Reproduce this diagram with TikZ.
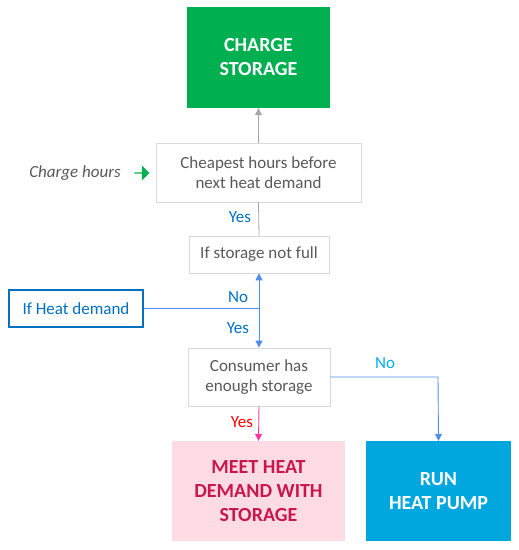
\documentclass[tikz,border=0pt]{standalone}
\usepackage{fontspec}
\setmainfont{Carlito}
\usetikzlibrary{arrows.meta,shapes.arrows,shadows}
\definecolor{cgreen}{HTML}{00B050}
\definecolor{cgraytxt}{HTML}{595959}
\definecolor{cborder}{HTML}{D9D9D9}
\definecolor{cblue}{HTML}{0070C0}
\definecolor{clblue}{HTML}{00B0F0}
\definecolor{cline}{HTML}{4F8EF0}
\definecolor{cpinkfill}{HTML}{FFDCE3}
\definecolor{ccrimson}{HTML}{C8174F}
\definecolor{cpumpfill}{HTML}{00A6DE}
\definecolor{cpink}{HTML}{FF3399}
\definecolor{cred}{HTML}{FF0000}
\definecolor{carrowgray}{HTML}{A6A6A6}
\begin{document}
\begin{tikzpicture}[x=1pt,y=-1pt,
  greybox/.style={draw=cborder,line width=0.8pt,fill=white,text=cgraytxt,font=\fontsize{17}{20.5}\selectfont,align=center,inner sep=0pt},
  bigbox/.style={inner sep=0pt,align=center,font=\fontsize{20}{24}\selectfont\bfseries},
  lbl/.style={font=\fontsize{17}{20}\selectfont,inner sep=0pt},
  tip/.style={-{Triangle[length=7pt,width=7pt]}}
]
\useasboundingbox (0,0) rectangle (519,550);
% main boxes
\node[bigbox,fill=cgreen,text=white,minimum width=143pt,minimum height=101pt] (charge) at (258.5,57.5) {CHARGE\\STORAGE};
\node[greybox,minimum width=205pt,minimum height=59pt] (cheap) at (258.5,172.5) {Cheapest hours before\\next heat demand};
\node[greybox,minimum width=140pt,minimum height=37pt] (notfull) at (259,254.5) {If storage not full};
\node[draw=cblue,line width=1.2pt,text=cblue,font=\fontsize{17}{20}\selectfont,inner sep=0pt,minimum width=134pt,minimum height=37pt] (demand) at (76,308.5) {If Heat demand};
\node[greybox,minimum width=142pt,minimum height=58pt] (consumer) at (259,377) {Consumer has\\enough storage};
\node[bigbox,fill=cpinkfill,text=ccrimson,minimum width=173pt,minimum height=100pt] (meet) at (258.5,491) {MEET HEAT\\DEMAND WITH\\STORAGE};
\node[bigbox,fill=cpumpfill,text=white,minimum width=145pt,minimum height=100pt] (pump) at (438.5,491) {RUN\\HEAT PUMP};
% side label
\node[lbl,anchor=east,text=cgraytxt,font=\fontsize{17}{20}\selectfont\itshape] (chlabel) at (121,173) {Charge hours};
\node[single arrow,fill=cgreen,draw=none,minimum height=15pt,minimum width=15pt,single arrow head extend=2pt,inner sep=0pt] (garrow) at (141.5,173) {};
% connectors
\draw[carrowgray,line width=0.8pt,tip] (cheap.north) -- (charge.south);
\draw[carrowgray,line width=0.8pt] (cheap.south) -- (notfull.north);
\node[lbl,text=cblue] (yes1) at (240,217) {Yes};
\coordinate (junc) at (259,308.5);
\draw[cline,line width=0.9pt] (demand.east) -- (junc);
\draw[cline,line width=0.9pt,tip] (junc) -- (notfull.south);
\draw[cline,line width=0.9pt,tip] (junc) -- (consumer.north);
\node[lbl,text=cblue] (no1) at (238,297) {No};
\node[lbl,text=cblue] (yes2) at (238,328) {Yes};
\coordinate (turn) at (438,377);
\draw[cline,line width=0.9pt,tip] (consumer.east) -- (turn) -- (pump.north);
\node[lbl,text=clblue] (no2) at (385,363) {No};
\draw[cpink,line width=0.9pt,tip] (consumer.south) -- (meet.north);
\node[lbl,text=cred] (yes3) at (242,422) {Yes};
\end{tikzpicture}
\end{document}
